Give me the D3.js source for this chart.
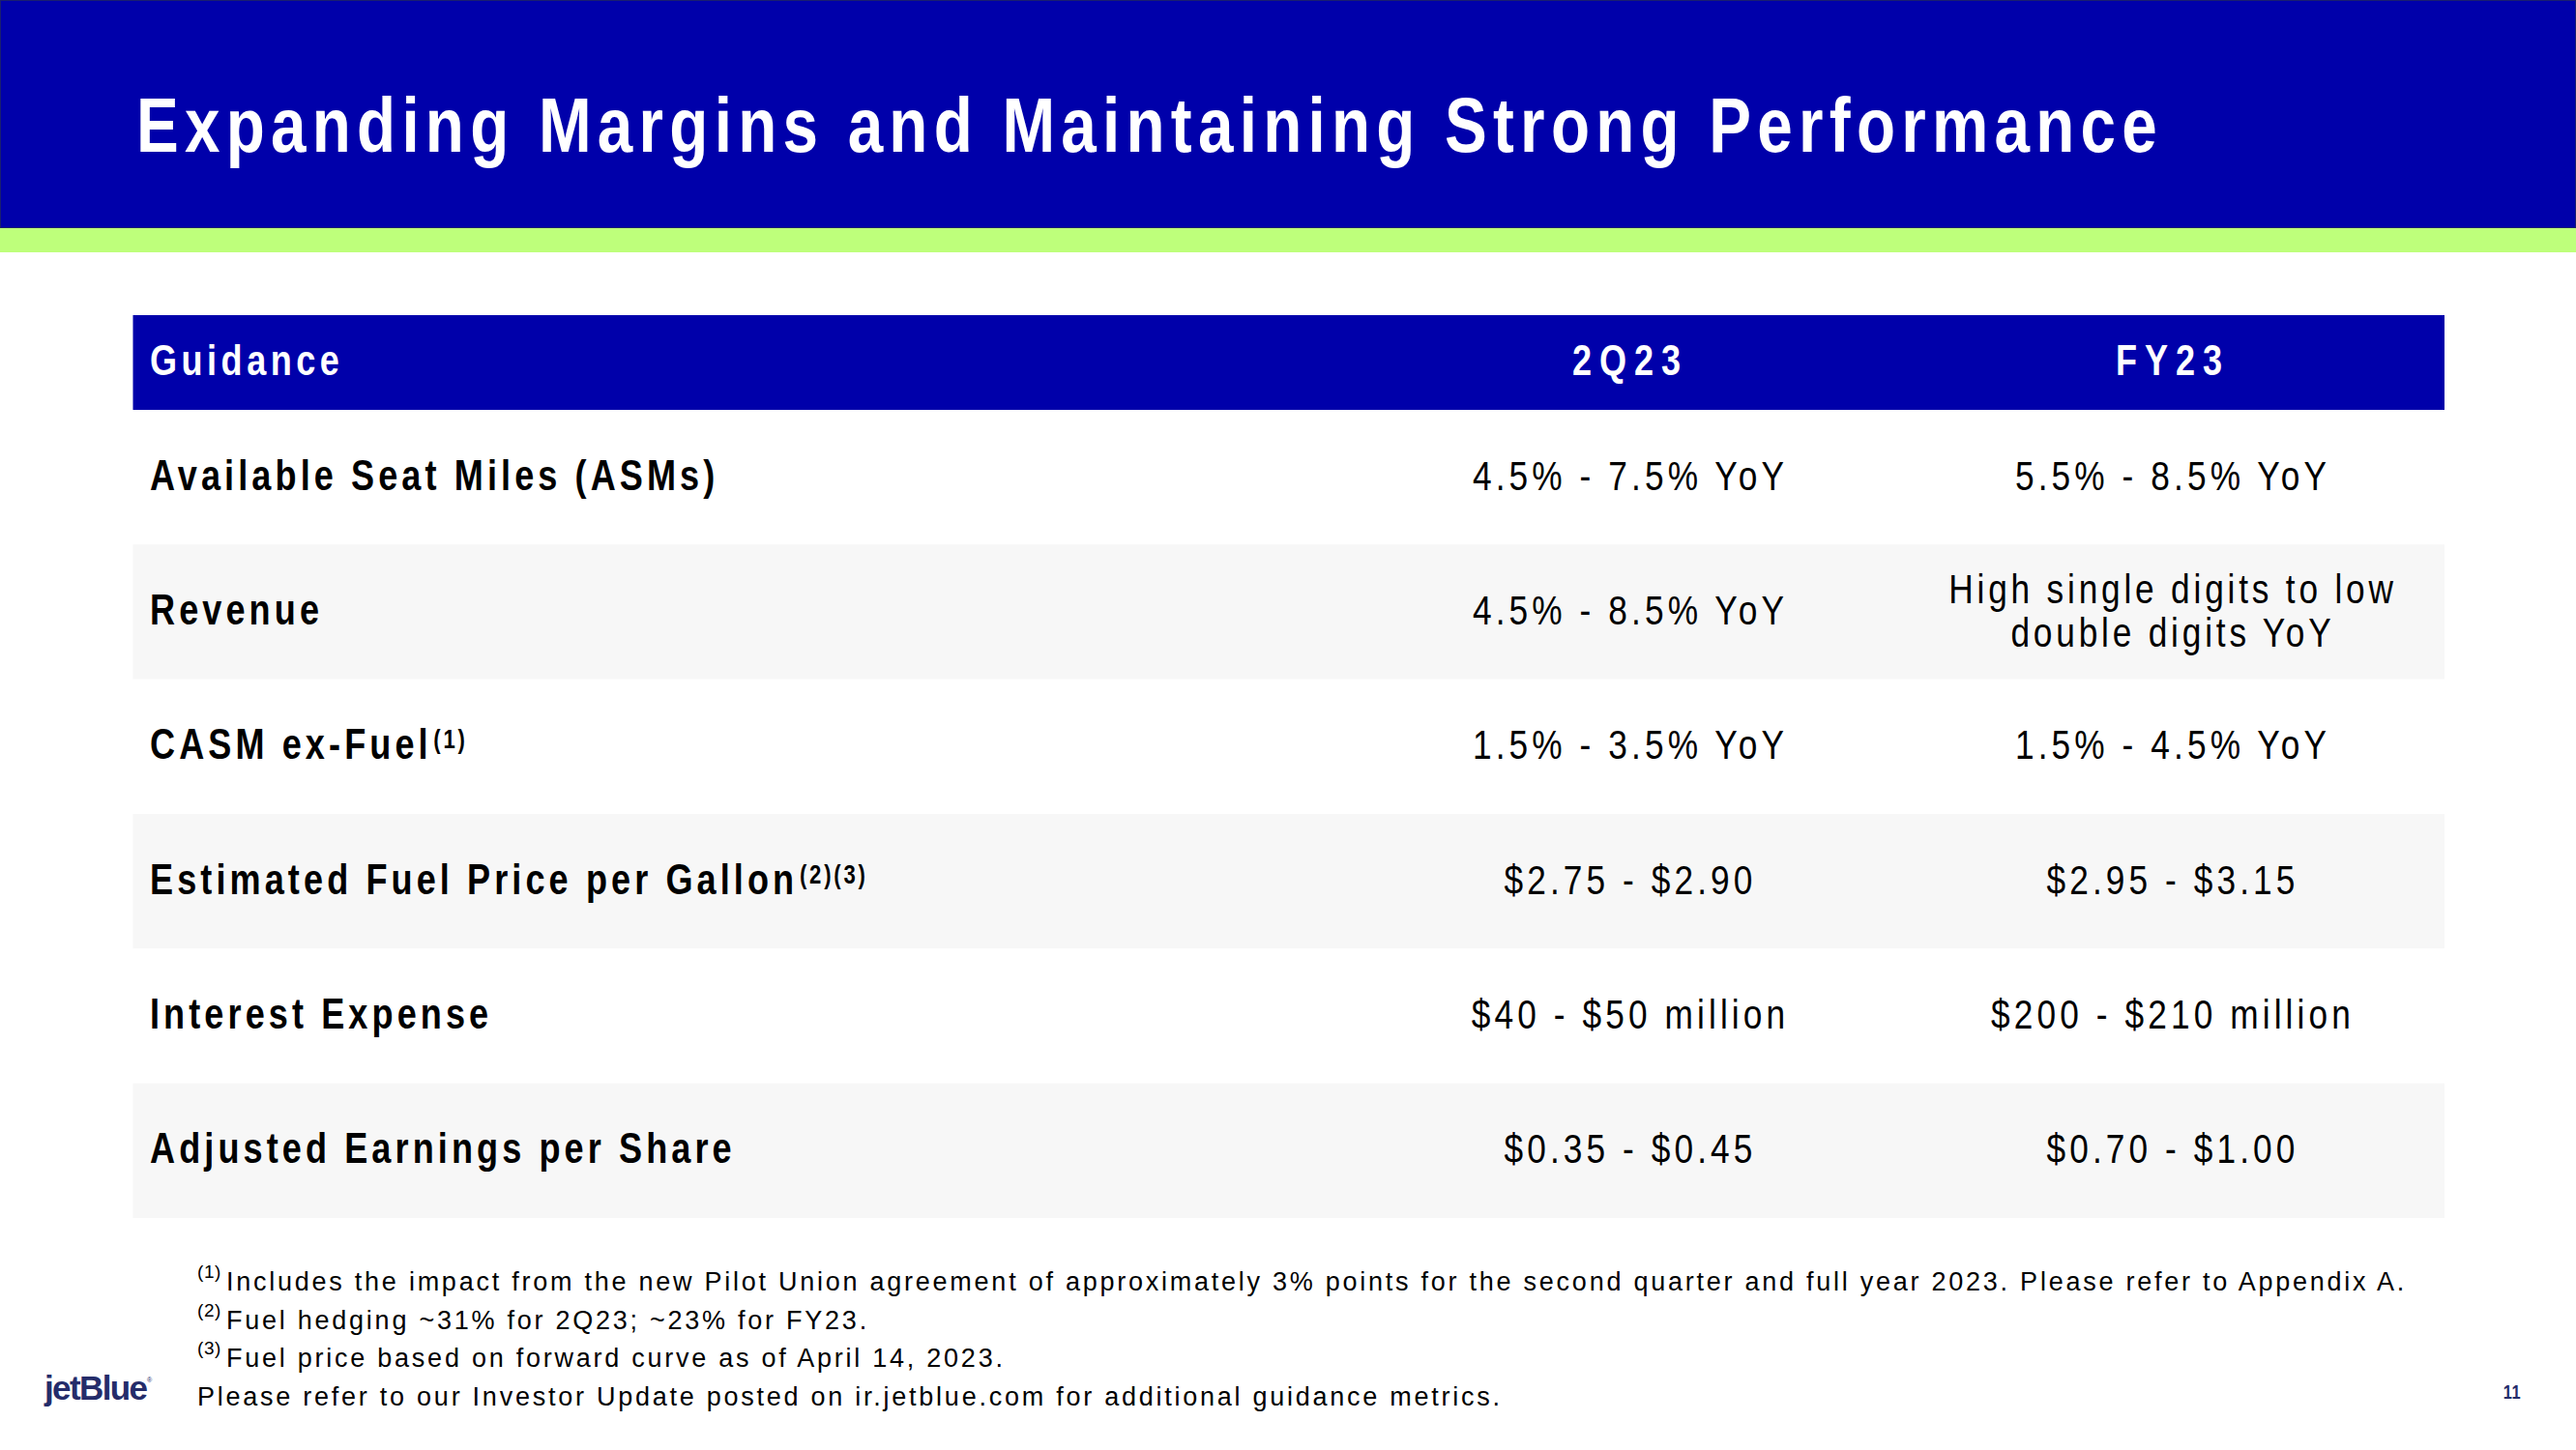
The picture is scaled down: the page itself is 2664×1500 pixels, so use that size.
<!DOCTYPE html>
<html>
<head>
<meta charset="utf-8">
<script src="https://cdn.jsdelivr.net/npm/d3@7"></script>
<style>
  html, body { margin: 0; padding: 0; background: #ffffff; }
  svg { display: block; }
</style>
</head>
<body>
<svg id="chart" width="2664" height="1500"></svg>
<script>
// ---------------- DATA ----------------
const title = "Expanding Margins and Maintaining Strong Performance";
const columns = ["Guidance", "2Q23", "FY23"];
const metrics = [
  "Available Seat Miles (ASMs)",
  "Revenue",
  "CASM ex-Fuel",
  "Estimated Fuel Price per Gallon",
  "Interest Expense",
  "Adjusted Earnings per Share"
];
const metricNotes = ["", "", "(1)", "(2)(3)", "", ""];
const q2Values = [
  ["4.5% - 7.5% YoY"],
  ["4.5% - 8.5% YoY"],
  ["1.5% - 3.5% YoY"],
  ["$2.75 - $2.90"],
  ["$40 - $50 million"],
  ["$0.35 - $0.45"]
];
const fyValues = [
  ["5.5% - 8.5% YoY"],
  ["High single digits to low", "double digits YoY"],
  ["1.5% - 4.5% YoY"],
  ["$2.95 - $3.15"],
  ["$200 - $210 million"],
  ["$0.70 - $1.00"]
];
const footnoteMarks = ["(1)", "(2)", "(3)", ""];
const footnotes = [
  "Includes the impact from the new Pilot Union agreement of approximately 3% points for the second quarter and full year 2023. Please refer to Appendix A.",
  "Fuel hedging ~31% for 2Q23; ~23% for FY23.",
  "Fuel price based on forward curve as of April 14, 2023.",
  "Please refer to our Investor Update posted on ir.jetblue.com for additional guidance metrics."
];
const logoText = "jetBlue";
const pageNumber = "11";

// ---------------- STYLE ----------------
const BLUE = "#0000AA";
const GREEN = "#BEFF7B";
const STRIPE = "#F7F7F7";
const NAVY = "#252C6A";
const REGULAR = "'Liberation Sans', Arial, sans-serif";

function hasFont(name) {
  const c = document.createElement("canvas").getContext("2d");
  const s = "abcdefghiMWwl0123456789";
  c.font = "40px monospace";
  const a = c.measureText(s).width;
  c.font = `40px "${name}", monospace`;
  const b = c.measureText(s).width;
  return Math.abs(a - b) > 0.5;
}
const narrowOK = hasFont("Liberation Sans Narrow");
const FAMILY = narrowOK ? "'Liberation Sans Narrow', 'Arial Narrow', sans-serif" : REGULAR;
const SX = narrowOK ? 1 : 0.82;

const svg = d3.select("#chart");

// helper: text anchored at (x,y); condensed unless o.family given
function addText(parent, x, y, str, o) {
  const sx = o.family ? 1 : SX;
  const g = parent.append("g").attr("transform", `translate(${x},${y}) scale(${sx},1)`);
  const t = g.append("text")
    .attr("x", 0).attr("y", 0)
    .attr("font-family", o.family || FAMILY)
    .attr("font-size", o.size)
    .attr("font-weight", o.weight || "normal")
    .attr("fill", o.fill || "#000")
    .attr("text-anchor", o.anchor || "start")
    .style("letter-spacing", ((o.ls || 0) / sx) + "px");
  if (str !== null) t.text(str);
  return t;
}

// ---------------- TITLE BAND ----------------
svg.append("rect").attr("x", 0).attr("y", 0).attr("width", 2664).attr("height", 236)
  .attr("fill", BLUE).attr("stroke", "#1a1f6e").attr("stroke-width", 2);
svg.append("rect").attr("x", 0).attr("y", 236).attr("width", 2664).attr("height", 25).attr("fill", GREEN);
addText(svg, 141, 157, title, { size: 80, weight: "bold", fill: "#fff", ls: 6.25 });

// ---------------- TABLE ----------------
const tableX0 = 137.5, tableX1 = 2528;
const colX = d3.scaleOrdinal().domain(columns).range([155, 1686, 2247]);
const headerTop = 326, headerBottom = 424;
const rowY = d3.scaleBand().domain(metrics).range([headerBottom, 1260]).padding(0);

// header
svg.append("rect").attr("x", tableX0).attr("y", headerTop)
  .attr("width", tableX1 - tableX0).attr("height", headerBottom - headerTop).attr("fill", BLUE);
columns.forEach((c, i) => {
  addText(svg, colX(c), 388, c, { size: 44, weight: "bold", fill: "#fff", ls: i === 0 ? 4.5 : 8, anchor: i === 0 ? "start" : "middle" });
});

// rows
metrics.forEach((m, i) => {
  const y0 = rowY(m), h = rowY.bandwidth(), cy = y0 + h / 2;
  svg.append("rect").attr("x", tableX0).attr("y", y0).attr("width", tableX1 - tableX0).attr("height", h)
    .attr("fill", i % 2 === 1 ? STRIPE : "#fff");
  const t = addText(svg, colX(columns[0]), cy + 13, null, { size: 44, weight: "bold", ls: 4.1 });
  t.append("tspan").text(m);
  if (metricNotes[i]) {
    t.append("tspan").attr("font-size", 27).attr("dx", 2).attr("dy", -11).style("letter-spacing", (2.8 / SX) + "px").text(metricNotes[i]);
  }
  [q2Values[i], fyValues[i]].forEach((lines, j) => {
    const cx = colX(columns[j + 1]);
    const lh = 45;
    const ls = lines.length > 1 ? 3.8 : 4.1;
    lines.forEach((ln, k) => {
      const by = cy + 13 + (k - (lines.length - 1) / 2) * lh;
      addText(svg, cx, by, ln, { size: 43, ls: ls, anchor: "middle" });
    });
  });
});

// ---------------- FOOTNOTES ----------------
const fnY = d3.scaleLinear().domain([0, footnotes.length - 1]).range([1335, 1454]);
footnotes.forEach((f, i) => {
  const t = addText(svg, 204, fnY(i), null, { size: 27, ls: 2.75, family: REGULAR });
  if (footnoteMarks[i]) {
    t.append("tspan").attr("font-size", 19).attr("dy", -13).style("letter-spacing", "0.6px").text(footnoteMarks[i]);
    t.append("tspan").attr("dy", 13).attr("dx", 5).text(f);
  } else {
    t.append("tspan").text(f);
  }
});

// ---------------- LOGO & PAGE ----------------
svg.append("text").attr("x", 46).attr("y", 1448)
  .attr("font-family", REGULAR).attr("font-size", 35).attr("font-weight", "bold")
  .attr("fill", NAVY).style("letter-spacing", "-1.6px").text(logoText);
svg.append("text").attr("x", 152).attr("y", 1430)
  .attr("font-family", REGULAR).attr("font-size", 7)
  .attr("fill", NAVY).text("®");
addText(svg, 2598, 1447, pageNumber, { size: 20, weight: "bold", fill: NAVY, anchor: "middle", ls: 0.5 });
</script>
</body>
</html>
